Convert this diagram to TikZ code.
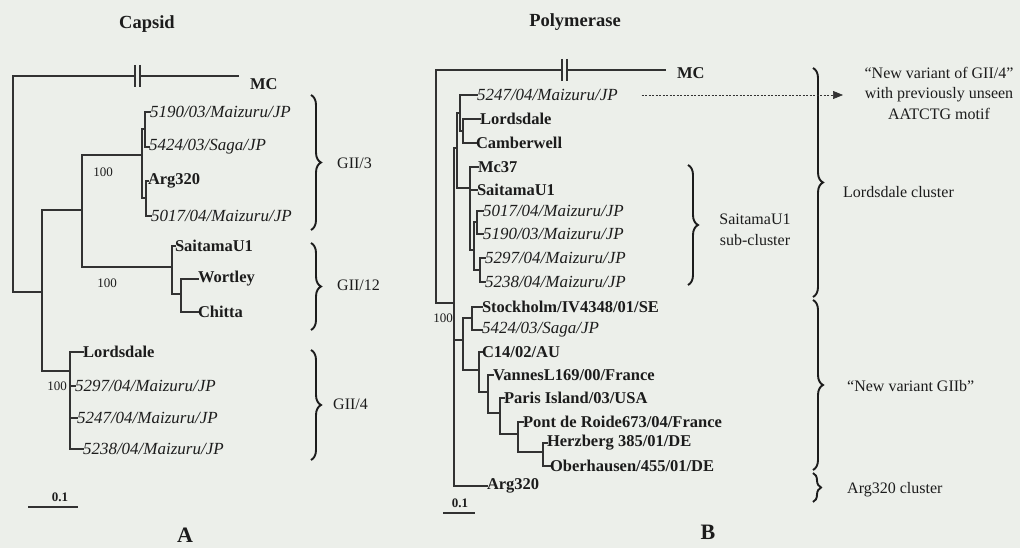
\documentclass[tikz,border=0pt]{standalone}
\usepackage{fontspec}
\setmainfont{Liberation Serif}
\usetikzlibrary{decorations.pathreplacing,arrows.meta}
\definecolor{bg}{RGB}{236,239,234}
\definecolor{ink}{RGB}{28,28,28}
\definecolor{line}{RGB}{50,50,50}
\begin{document}
\begin{tikzpicture}[x=1pt,y=-1pt,
  tree/.style={draw=line,line width=1.5pt,line cap=rect},
  lb/.style={anchor=west,inner sep=0pt,outer sep=0pt,text=ink,font=\fontsize{16.5}{18}\selectfont\bfseries},
  li/.style={anchor=west,inner sep=0pt,outer sep=0pt,text=ink,font=\fontsize{17}{18}\selectfont\itshape},
  note/.style={text=ink,font=\fontsize{16}{20.5}\selectfont,inner sep=0pt},
  boot/.style={text=ink,font=\fontsize{13}{14}\selectfont,inner sep=0pt},
  ttl/.style={text=ink,font=\fontsize{18.5}{20}\selectfont\bfseries,inner sep=0pt},
  brc/.style={draw=ink,line width=1.9pt,decorate,decoration={brace,amplitude=10pt}},
  brk/.style={draw=line,line width=1.3pt},
]
\path[use as bounding box,fill=bg] (0,0) rectangle (1020,548);

%================ Panel A =================
\node[ttl] (ttlA) at (147,24) {Capsid};
\coordinate (rA) at (13,184);
\coordinate (mcA) at (238,76);
\node[lb] (MCa) at (250,84) {MC};
\coordinate (brA1) at (135,76);
\coordinate (brA2) at (140,76);
\draw[tree] (rA |- mcA) -- (brA1);
\draw[tree] (brA2) -- (mcA);
\draw[brk] ([yshift=11pt]brA1) -- ([yshift=-11pt]brA1);
\draw[brk] ([yshift=11pt]brA2) -- ([yshift=-11pt]brA2);

\coordinate (nA1) at (42,292);
\draw[tree] (rA |- mcA) -- (rA |- nA1) -- (nA1);
\coordinate (nA2) at (82,210);
\coordinate (nA4) at (70,371);
\draw[tree] (nA2) -- (nA1 |- nA2) -- (nA1 |- nA4) -- (nA4);
\coordinate (nA3) at (142,155);
\coordinate (nA12) at (172,267);
\draw[tree] (nA3) -- (nA2 |- nA3) -- (nA2 |- nA12) -- (nA12);
\coordinate (a3s1) at (145,129);
\coordinate (a3s2) at (146,198);
\draw[tree] (a3s1) -- (nA3 |- a3s1) -- (nA3 |- a3s2) -- (a3s2);

\node[li] (a5190) at (150,112) {5190/03/Maizuru/JP};
\node[li] (a5424) at (149,147) {5424/03/Saga/JP};
\node[lb] (aArg) at (148,181) {Arg320};
\node[li] (a5017) at (151,216) {5017/04/Maizuru/JP};
\draw[tree] (a5190.west) -- (a3s1 |- a5190) -- (a3s1 |- a5424) -- (a5424.west);
\draw[tree] (aArg.west) -- (a3s2 |- aArg) -- (a3s2 |- a5017) -- (a5017.west);

\node[lb] (aSai) at (175,246) {SaitamaU1};
\coordinate (nWC) at (181,294);
\draw[tree] (aSai.west) -- (nA12 |- aSai) -- (nA12 |- nWC) -- (nWC);
\node[lb] (aWor) at (198,279) {Wortley};
\node[lb] (aChi) at (198,312) {Chitta};
\draw[tree] (aWor.west) -- (nWC |- aWor) -- (nWC |- aChi) -- (aChi.west);

\node[lb] (aLor) at (83,352) {Lordsdale};
\node[li] (a5297) at (75,386) {5297/04/Maizuru/JP};
\node[li] (a5247) at (77,418) {5247/04/Maizuru/JP};
\node[li] (a5238) at (83,449) {5238/04/Maizuru/JP};
\draw[tree] (aLor.west) -- (nA4 |- aLor) -- (nA4 |- a5238) -- (a5238.west);
\draw[tree] (nA4 |- a5297) -- (a5297.west);
\draw[tree] (nA4 |- a5247) -- (a5247.west);

\node[boot] (bA1) at (103,172) {100};
\node[boot] (bA2) at (107,283) {100};
\node[boot] (bA3) at (57,386) {100};

\draw[brc] (311,95) -- (311,230);
\draw[brc] (311,243) -- (311,330);
\draw[brc] (311,350) -- (311,460);
\node[note,anchor=west] (gA3) at (337,163) {GII/3};
\node[note,anchor=west] (gA12) at (337,285) {GII/12};
\node[note,anchor=west] (gA4) at (333,404) {GII/4};

\coordinate (sbA1) at (28,507);
\coordinate (sbA2) at (78,507);
\draw[line,line width=1.3pt] (sbA1) -- (sbA2);
\node[boot,font=\fontsize{13}{14}\selectfont\bfseries] (sbAl) at (60,497) {0.1};
\node[text=ink,font=\fontsize{22}{24}\selectfont\bfseries,inner sep=0pt] (labA) at (185,535) {A};

%================ Panel B =================
\node[ttl] (ttlB) at (575,22) {Polymerase};
\coordinate (rB) at (436,186);
\coordinate (mcB) at (665,70);
\node[lb] (MCb) at (677,73) {MC};
\coordinate (brB1) at (562,70);
\coordinate (brB2) at (567,70);
\draw[tree] (rB |- mcB) -- (brB1);
\draw[tree] (brB2) -- (mcB);
\draw[brk] ([yshift=11pt]brB1) -- ([yshift=-11pt]brB1);
\draw[brk] ([yshift=11pt]brB2) -- ([yshift=-11pt]brB2);

\coordinate (nB1) at (454,303);
\draw[tree] (rB |- mcB) -- (rB |- nB1) -- (nB1);
\coordinate (nBLC) at (457,148);
\coordinate (nBG) at (463,340);
\node[lb] (bArg) at (487,486) {Arg320};
\draw[tree] (nBLC) -- (nB1 |- nBLC) -- (nB1 |- bArg) -- (bArg.west);
\draw[tree] (nB1 |- nBG) -- (nBG);

% Lordsdale cluster
\coordinate (nB2) at (460,113);
\coordinate (nBS) at (470,188);
\draw[tree] (nB2) -- (nBLC |- nB2) -- (nBLC |- nBS) -- (nBS);
\node[li] (b5247) at (477,95) {5247/04/Maizuru/JP};
\coordinate (nB3) at (463,131);
\draw[tree] (b5247.west) -- (nB2 |- b5247) -- (nB2 |- nB3) -- (nB3);
\node[lb] (bLor) at (480,119) {Lordsdale};
\node[lb] (bCam) at (476,143) {Camberwell};
\draw[tree] (bLor.west) -- (nB3 |- bLor) -- (nB3 |- bCam) -- (bCam.west);

\node[lb] (bMc) at (478,167) {Mc37};
\node[lb] (bSai) at (477,190) {SaitamaU1};
\coordinate (nBQ) at (474,250);
\draw[tree] (bMc.west) -- (nBS |- bMc) -- (nBS |- nBQ) -- (nBQ);
\draw[tree] (nBS |- bSai) -- (bSai.west);
\coordinate (nBQ1) at (477,222);
\coordinate (nBQ2) at (480,270);
\draw[tree] (nBQ1) -- (nBQ |- nBQ1) -- (nBQ |- nBQ2) -- (nBQ2);
\node[li] (b5017) at (483,211) {5017/04/Maizuru/JP};
\node[li] (b5190) at (483,234) {5190/03/Maizuru/JP};
\node[li] (b5297) at (485,258) {5297/04/Maizuru/JP};
\node[li] (b5238) at (485,282) {5238/04/Maizuru/JP};
\draw[tree] (b5017.west) -- (nBQ1 |- b5017) -- (nBQ1 |- b5190) -- (b5190.west);
\draw[tree] (b5297.west) -- (nBQ2 |- b5297) -- (nBQ2 |- b5238) -- (b5238.west);

% GIIb cluster
\coordinate (nBSt) at (472,318);
\coordinate (nBC) at (479,370);
\draw[tree] (nBSt) -- (nBG |- nBSt) -- (nBG |- nBC) -- (nBC);
\node[lb] (bSto) at (482,307) {Stockholm/IV4348/01/SE};
\node[li] (b5424) at (482,330) {5424/03/Saga/JP};
\draw[tree] (bSto.west) -- (nBSt |- bSto) -- (nBSt |- b5424) -- (b5424.west);
\node[lb] (bC14) at (482,352) {C14/02/AU};
\coordinate (nBV) at (488,392);
\draw[tree] (bC14.west) -- (nBC |- bC14) -- (nBC |- nBV) -- (nBV);
\node[lb] (bVan) at (493,375) {VannesL169/00/France};
\coordinate (nBP) at (500,413);
\draw[tree] (bVan.west) -- (nBV |- bVan) -- (nBV |- nBP) -- (nBP);
\node[lb] (bPar) at (504,398) {Paris Island/03/USA};
\coordinate (nBPo) at (518,434);
\draw[tree] (bPar.west) -- (nBP |- bPar) -- (nBP |- nBPo) -- (nBPo);
\node[lb] (bPon) at (523,422) {Pont de Roide673/04/France};
\coordinate (nBH) at (543,452);
\draw[tree] (bPon.west) -- (nBPo |- bPon) -- (nBPo |- nBH) -- (nBH);
\node[lb] (bHer) at (547,443) {Herzberg 385/01/DE};
\node[lb] (bObe) at (550,466) {Oberhausen/455/01/DE};
\draw[tree] (bHer.west) -- (nBH |- bHer) -- (nBH |- bObe) -- (bObe.west);

\node[boot] (bB1) at (443,318) {100};

% braces and annotations
\draw[brc] (688,165) -- (688,285);
\node[note,align=center] (subS) at (755,230) {SaitamaU1\\sub-cluster};
\draw[brc] (813,68) -- (813,297);
\node[note,anchor=west] (clLor) at (843,192) {Lordsdale cluster};
\draw[brc] (813,300) -- (813,470);
\node[note,anchor=west] (clG) at (847,386) {“New variant GIIb”};
\draw[brc,decoration={brace,amplitude=8pt}] (813,473) -- (813,502);
\node[note,anchor=west] (clArg) at (847,490) {Arg320 cluster};

\node[note,align=center] (annot) at (939,93) {“New variant of GII/4”\\with previously unseen\\AATCTG motif};
\coordinate (arrEnd) at (843,97);
\draw[line,line width=0.7pt,dash pattern=on 2pt off 1.5pt,-{Triangle[length=10pt,width=8pt]}] ([xshift=24pt]b5247.east) -- (arrEnd |- b5247);

\coordinate (sbB1) at (443,513);
\coordinate (sbB2) at (475,513);
\draw[line,line width=1.3pt] (sbB1) -- (sbB2);
\node[boot,font=\fontsize{13}{14}\selectfont\bfseries] (sbBl) at (460,503) {0.1};
\node[text=ink,font=\fontsize{22}{24}\selectfont\bfseries,inner sep=0pt] (labB) at (708,532) {B};
\end{tikzpicture}
\end{document}
